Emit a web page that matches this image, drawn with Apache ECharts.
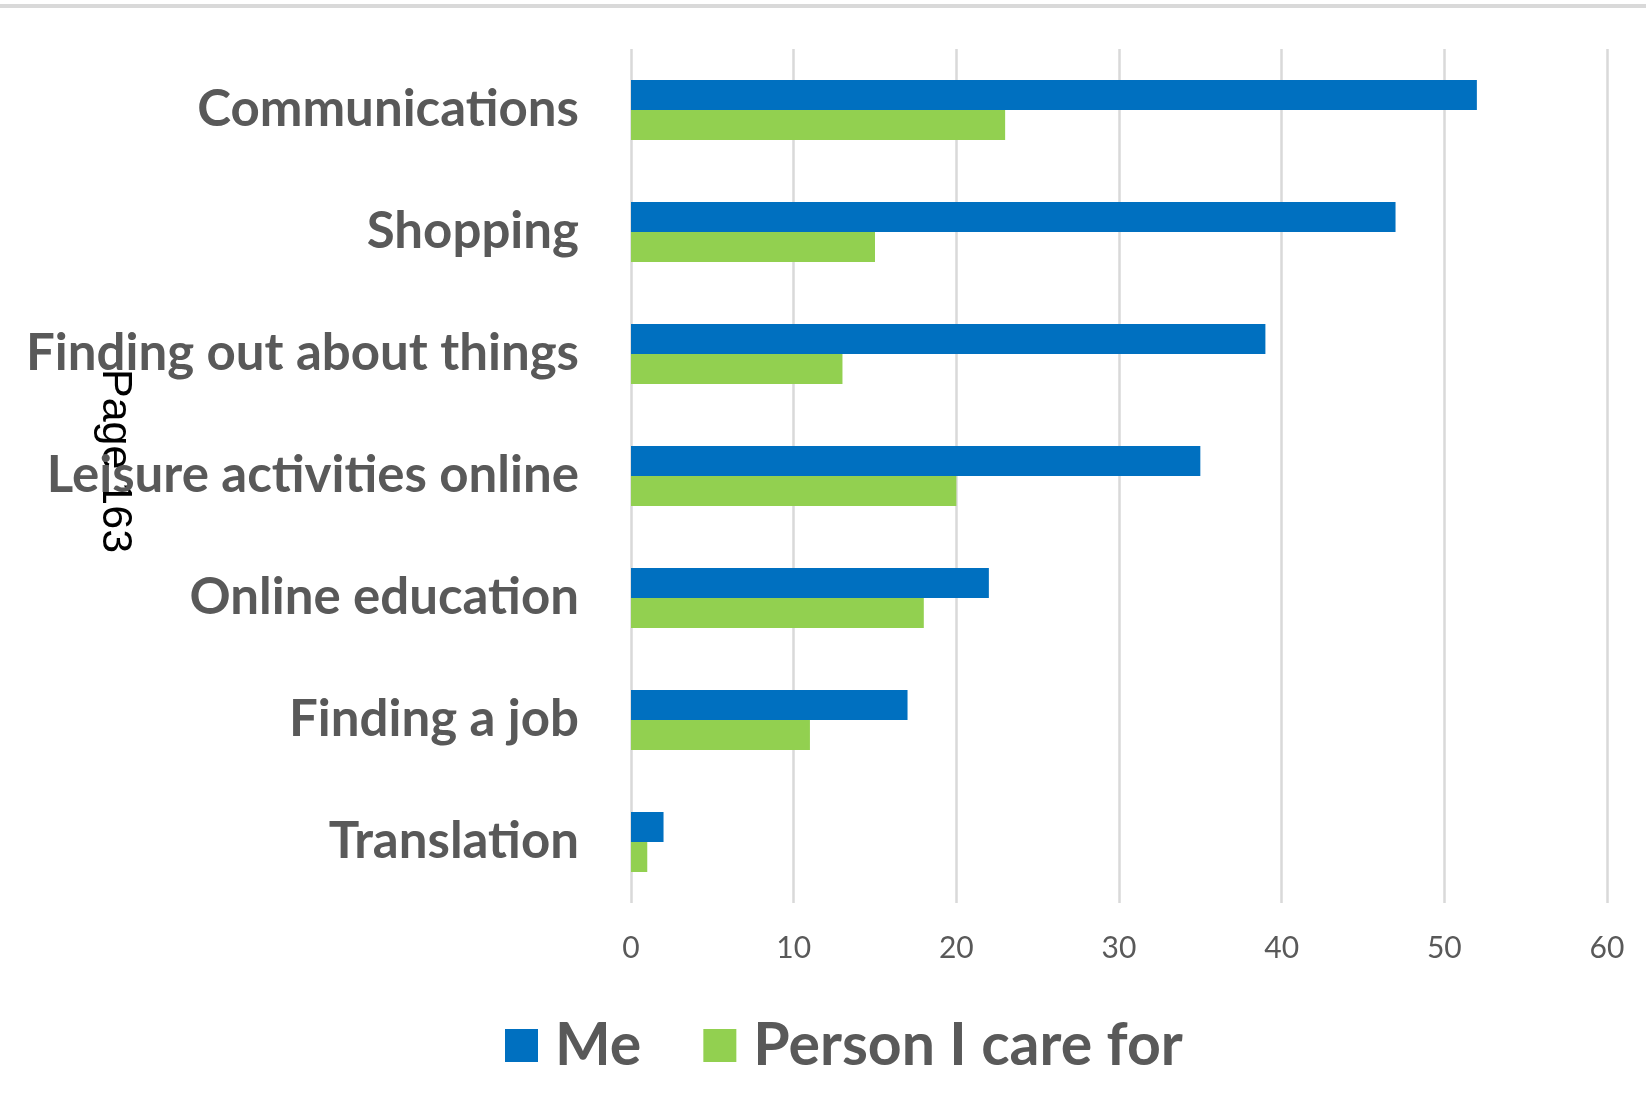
<!DOCTYPE html>
<html>
<head>
<meta charset="utf-8">
<script src="https://cdn.jsdelivr.net/npm/echarts@6/dist/echarts.min.js"></script>
<style>
html,body{margin:0;padding:0;background:#fff;}
#chart{width:1646px;height:1113px;}
</style>
</head>
<body>
<div id="chart"></div>
<script>
const categories = ['Communications', 'Shopping', 'Finding out about things', 'Leisure activities online', 'Online education', 'Finding a job', 'Translation'];
const seriesNames = ['Me', 'Person I care for'];
const meValues = [52, 47, 39, 35, 22, 17, 2];
const careValues = [23, 15, 13, 20, 18, 11, 1];
const sideNote = 'Page 163';

const chart = echarts.init(document.getElementById('chart'));
chart.setOption({
  animation: false,
  backgroundColor: '#ffffff',
  grid: { left: 631, right: 39, top: 49, bottom: 210, containLabel: false },
  legend: {
    data: seriesNames,
    left: 500,
    top: 1011,
    itemWidth: 33,
    itemHeight: 33,
    itemGap: 62,
    icon: 'rect',
    textStyle: { fontFamily: 'Lato', fontWeight: 'bold', fontSize: 59, color: '#595959', padding: [0, 0, 0, 12] }
  },
  xAxis: {
    type: 'value', min: 0, max: 60, interval: 10,
    axisLine: { show: false }, axisTick: { show: false },
    splitLine: { show: true, lineStyle: { color: '#d9d9d9', width: 2.5 } },
    axisLabel: { fontFamily: 'Lato', fontSize: 30, color: '#595959', margin: 30 }
  },
  yAxis: {
    type: 'category', data: categories, inverse: true,
    axisLine: { show: false }, axisTick: { show: false },
    axisLabel: { fontFamily: 'Lato', fontWeight: 'bold', fontSize: 51, color: '#595959', margin: 52 }
  },
  series: [
    { name: seriesNames[0], type: 'bar', data: meValues, barWidth: 30, barGap: '0%', itemStyle: { color: '#0070C0' } },
    { name: seriesNames[1], type: 'bar', data: careValues, barWidth: 30, barGap: '0%', itemStyle: { color: '#92D050' } }
  ],
  graphic: [
    { type: 'rect', left: 0, top: 4, shape: { width: 1646, height: 4 }, style: { fill: '#d9d9d9' } },
    { type: 'text', x: 136, y: 369, rotation: -Math.PI / 2,
      style: { text: sideNote, fontFamily: 'Liberation Sans', fontSize: 43, fill: '#000000', textVerticalAlign: 'top' } }
  ]
});
</script>
</body>
</html>
